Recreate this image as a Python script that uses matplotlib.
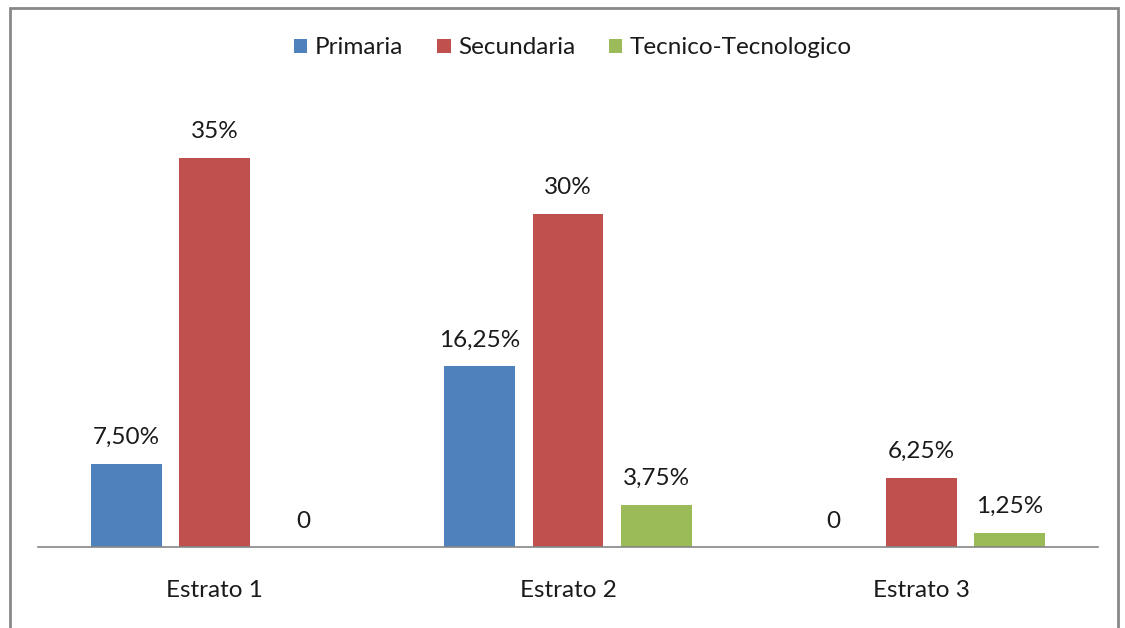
import matplotlib
matplotlib.use("Agg")
import matplotlib.pyplot as plt
import numpy as np
from matplotlib.patches import Rectangle

categories = ["Estrato 1", "Estrato 2", "Estrato 3"]
series_names = ["Primaria", "Secundaria", "Tecnico-Tecnologico"]
primaria = [7.50, 16.25, 0]
secundaria = [35, 30, 6.25]
tecnico = [0, 3.75, 1.25]
labels_primaria = ["7,50%", "16,25%", "0"]
labels_secundaria = ["35%", "30%", "6,25%"]
labels_tecnico = ["0", "3,75%", "1,25%"]
colors = ["#4F81BD", "#C0504D", "#9BBB59"]

plt.rcParams['font.family'] = ['Lato', 'DejaVu Sans']
W, H = 1125, 628
fig = plt.figure(figsize=(W/100, H/100), dpi=100)
ax = fig.add_axes([38/W, 81/H, 1060/W, 444.4/H])

x = np.arange(len(categories))
width = 0.2
offsets = [-0.25, 0, 0.25]
data = [primaria, secundaria, tecnico]
labs = [labels_primaria, labels_secundaria, labels_tecnico]
fs = 17.5
for vals, lab, off, c, name in zip(data, labs, offsets, colors, series_names):
    bars = ax.bar(x + off, vals, width, color=c, label=name)
    for b, v, t in zip(bars, vals, lab):
        ax.annotate(t, (b.get_x() + b.get_width()/2, v), xytext=(0, 16 if v > 0 else 15),
                    textcoords="offset pixels", ha="center", va="bottom",
                    fontsize=fs, color="#1a1a1a")

ax.set_xlim(-0.5, 2.5)
ax.set_ylim(0, 40)
ax.set_xticks(x)
ax.set_xticklabels(categories, fontsize=fs, color="#1a1a1a")
ax.tick_params(axis='x', length=0, pad=24)
ax.set_yticks([])
for s in ["top", "right", "left"]:
    ax.spines[s].set_visible(False)
ax.spines["bottom"].set_color("#868686")
ax.spines["bottom"].set_linewidth(1.2)

leg = fig.legend(loc="center", bbox_to_anchor=(573/W, 1 - 48/H), ncol=3, frameon=False,
                 fontsize=fs, handlelength=0.55, handleheight=0.55, handletextpad=0.3,
                 columnspacing=1.4)
for t in leg.get_texts():
    t.set_color("#1a1a1a")

fig.patches.append(Rectangle((10/W, -0.05), 1108/W, 1.05 - 8/H, transform=fig.transFigure,
                             fill=False, edgecolor="#898989", linewidth=2))

fig.savefig("out.png", dpi=100)
